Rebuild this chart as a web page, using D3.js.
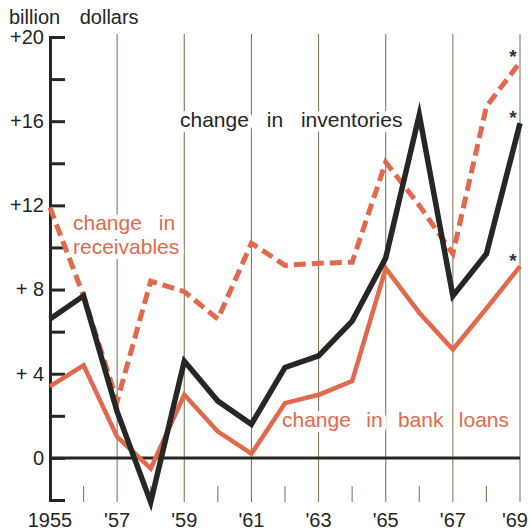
<!DOCTYPE html>
<html>
<head>
<meta charset="utf-8">
<script src="https://cdn.jsdelivr.net/npm/d3@7"></script>
<style>
  html, body { margin: 0; padding: 0; background: #ffffff; }
  svg { display: block; }
  text { font-family: "Liberation Sans", Arial, sans-serif; }
</style>
</head>
<body>
<script>
// ---- data ----
const years = [1955,1956,1957,1958,1959,1960,1961,1962,1963,1964,1965,1966,1967,1968,1969];
const inventories = [6.6, 7.7, 2.2, -2.1, 4.6, 2.7, 1.6, 4.3, 4.85, 6.5, 9.5, 16.3, 7.7, 9.7, 15.9];
const receivables = [11.9, 7.7, 2.7, 8.4, 7.9, 6.6, 10.2, 9.15, 9.25, 9.3, 14.05, 12.0, 9.7, 16.7, 18.8];
const bankLoans = [3.4, 4.4, 1.0, -0.5, 3.0, 1.25, 0.2, 2.6, 3.0, 3.65, 9.0, 6.9, 5.15, 7.1, 9.1];
const yTickValues = [-2,0,2,4,6,8,10,12,14,16,18,20];
const yTickLabels = {20:"+20", 16:"+16", 12:"+12", 8:"+ 8", 4:"+ 4", 0:"0"};
const xLabelYears = [1955,1957,1959,1961,1963,1965,1967,1969];
const xLabels = ["1955","'57","'59","'61","'63","'65","'67","'69"];
const gridYears = [1957,1959,1961,1963,1965,1967,1969];
const minorYears = [1956,1958,1960,1962,1964,1966,1968];
const unitLabel = "billion dollars";

const ORANGE = "#e2694c";
const BLACK = "#262624";
const GRID = "#85785e";

const W = 530, H = 532;
const svg = d3.select("body").append("svg").attr("width", W).attr("height", H);
svg.append("rect").attr("width", W).attr("height", H).attr("fill", "#ffffff");

const x = d3.scaleLinear().domain([1955, 1969]).range([50, 520]);
const y = d3.scaleLinear().domain([-2, 20]).range([500, 37]);

// unit label
svg.append("text").attr("x", 9).attr("y", 24)
  .attr("font-size", 20).attr("fill", BLACK).attr("word-spacing", 14)
  .text(unitLabel);

// gridlines
svg.append("g").selectAll("line").data(gridYears).join("line")
  .attr("x1", d => x(d)).attr("x2", d => x(d))
  .attr("y1", 34).attr("y2", 502)
  .attr("stroke", GRID).attr("stroke-width", 1.1);

// minor ticks
svg.append("g").selectAll("line").data(minorYears).join("line")
  .attr("x1", d => x(d)).attr("x2", d => x(d))
  .attr("y1", 486).attr("y2", 502)
  .attr("stroke", GRID).attr("stroke-width", 1.1);

// text labels with white halo (interrupt gridlines)
function label(txt, tx, ty, color, ws) {
  svg.append("text").attr("x", tx).attr("y", ty)
    .attr("font-size", 21).attr("fill", color)
    .attr("word-spacing", ws)
    .attr("stroke", "#ffffff").attr("stroke-width", 10)
    .attr("stroke-linejoin", "round").attr("paint-order", "stroke")
    .text(txt);
}
label("change in inventories", 180, 127, BLACK, 12);
label("change in", 73, 230, ORANGE, 11);
label("receivables", 73, 254, ORANGE, 11);
label("change in bank loans", 282, 427, ORANGE, 9.5);

// y axis
const yAxis = d3.axisLeft(y).tickValues(yTickValues).tickSize(-15).tickPadding(6)
  .tickFormat(d => yTickLabels[d] !== undefined ? yTickLabels[d] : "");
const gy = svg.append("g").attr("transform", `translate(${x(1955)},0)`).call(yAxis);
gy.select(".domain").attr("stroke", BLACK).attr("stroke-width", 3);
gy.selectAll(".tick line").attr("stroke", BLACK).attr("stroke-width", 3);
gy.selectAll(".tick text").attr("font-size", 20).attr("fill", BLACK)
  .attr("font-family", "Liberation Sans, Arial, sans-serif");

// zero line
svg.append("line")
  .attr("x1", x(1955)).attr("x2", x(1969))
  .attr("y1", y(0)).attr("y2", y(0))
  .attr("stroke", BLACK).attr("stroke-width", 3);

// x labels
svg.append("g").selectAll("text").data(xLabelYears).join("text")
  .attr("x", d => d === 1969 ? x(d) + 8 : x(d)).attr("y", 527)
  .attr("text-anchor", d => d === 1969 ? "end" : "middle")
  .attr("font-size", 20).attr("fill", BLACK)
  .text((d, i) => xLabels[i]);

// series
const line = d3.line().x((d, i) => x(years[i])).y(d => y(d));

svg.append("path").datum(bankLoans).attr("d", line)
  .attr("fill", "none").attr("stroke", ORANGE).attr("stroke-width", 4.5)
  .attr("stroke-linejoin", "miter");

svg.append("path").datum(receivables).attr("d", line)
  .attr("fill", "none").attr("stroke", ORANGE).attr("stroke-width", 5)
  .attr("stroke-dasharray", "12,6").attr("stroke-linejoin", "miter");

svg.append("path").datum(inventories).attr("d", line)
  .attr("fill", "none").attr("stroke", BLACK).attr("stroke-width", 5.5)
  .attr("stroke-linejoin", "miter").attr("stroke-miterlimit", 10);

// asterisks (preliminary)
const lastVals = [receivables[14], inventories[14], bankLoans[14]];
svg.append("g").selectAll("text").data(lastVals).join("text")
  .attr("x", x(1969) - 7).attr("y", d => y(d) + 1)
  .attr("text-anchor", "middle").attr("font-size", 19).attr("font-weight", "bold")
  .attr("fill", "#333").text("*");
</script>
</body>
</html>
